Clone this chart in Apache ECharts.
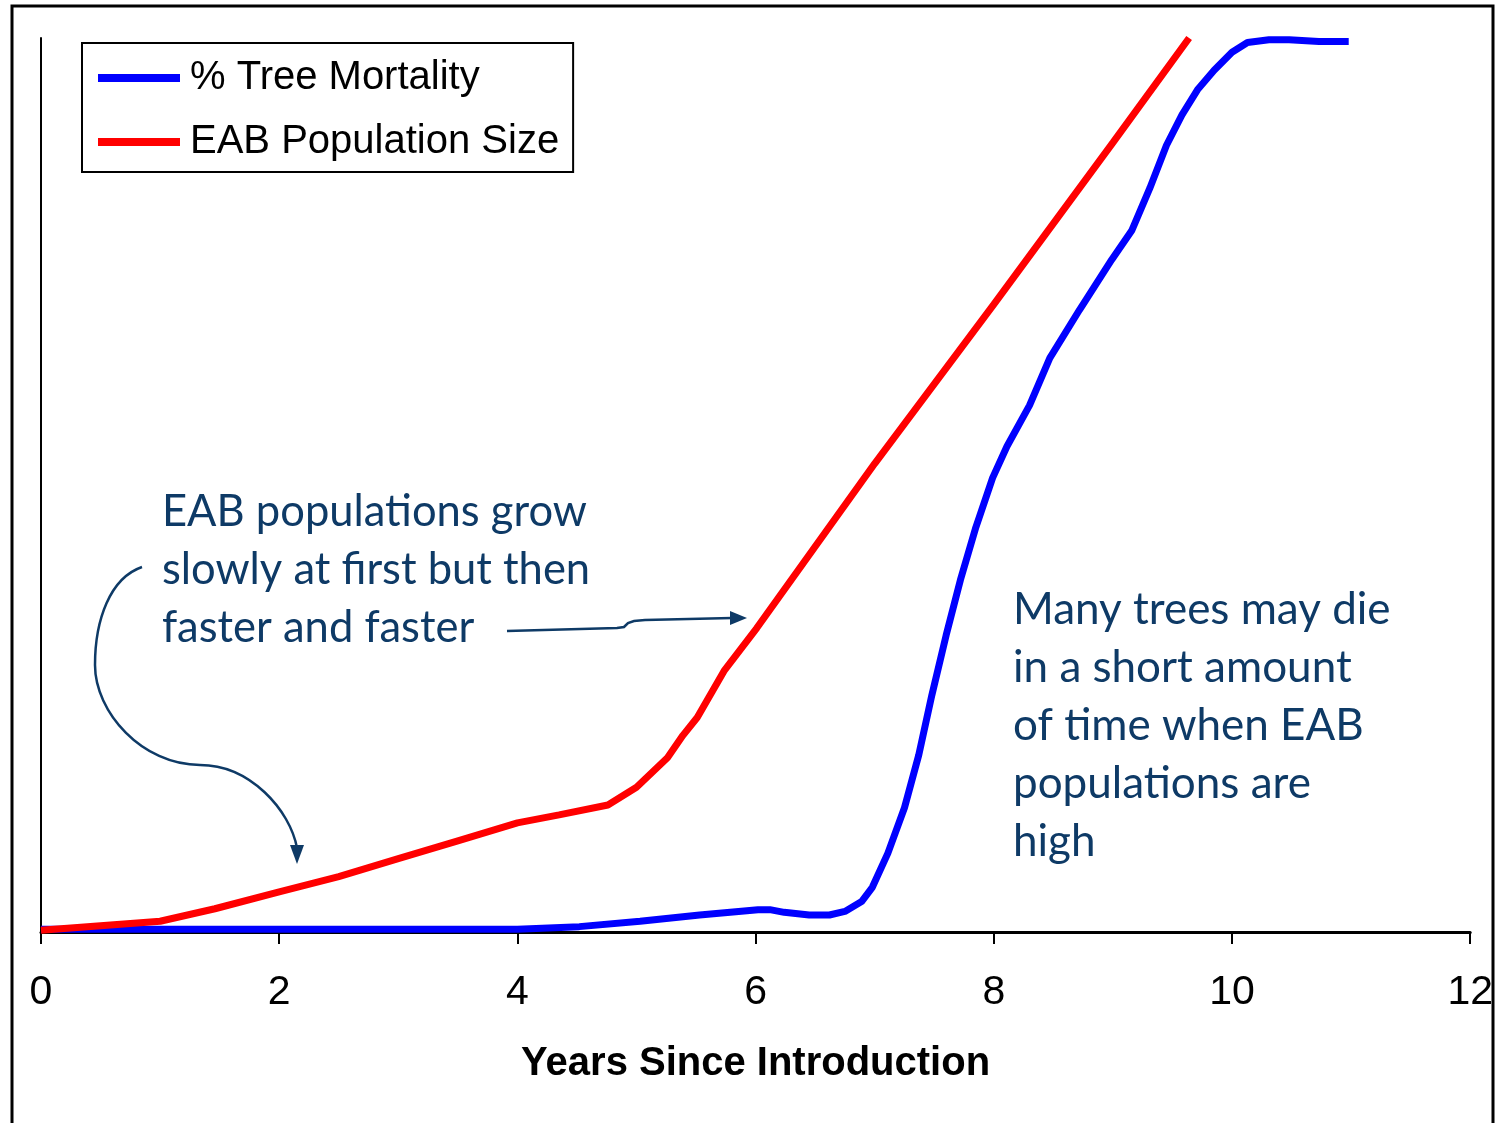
<!DOCTYPE html>
<html>
<head>
<meta charset="utf-8">
<title>EAB population vs tree mortality</title>
<script src="https://cdn.jsdelivr.net/npm/echarts@6/dist/echarts.min.js"></script>
<style>
  html, body { margin: 0; padding: 0; background: #fff; }
  #chart { width: 1496px; height: 1123px; }
</style>
</head>
<body>
<div id="chart"></div>
<script>
// years since introduction -> value (0..100, relative scale)
const mortalityYears = [0, 1, 2, 3, 4, 4.52, 5.03, 5.53, 6.02, 6.12, 6.24, 6.45, 6.62, 6.75, 6.89, 6.98, 7.11, 7.25, 7.37, 7.48, 7.6, 7.72, 7.85, 7.99, 8.11, 8.3, 8.47, 8.72, 8.99, 9.16, 9.31, 9.45, 9.58, 9.71, 9.85, 10, 10.13, 10.31, 10.48, 10.73, 10.98]
const mortalityValues = [0.3, 0.3, 0.3, 0.3, 0.3, 0.6, 1.2, 1.9, 2.5, 2.5, 2.2, 1.9, 1.9, 2.3, 3.4, 5.0, 8.8, 13.9, 19.8, 26.5, 33.2, 39.4, 45.3, 50.8, 54.3, 58.9, 64.2, 69.6, 75.2, 78.5, 83.2, 88.0, 91.4, 94.2, 96.4, 98.4, 99.5, 99.8, 99.8, 99.6, 99.6]

const popYears = [0, 0.5, 1, 1.46, 2, 2.5, 3, 3.5, 4, 4.35, 4.76, 5, 5.26, 5.39, 5.51, 5.74, 6.01, 7, 8, 9, 9.64]
const popValues = [0.2, 0.7, 1.2, 2.6, 4.5, 6.2, 8.2, 10.2, 12.2, 13.1, 14.2, 16.2, 19.5, 22.0, 24.0, 29.3, 34.0, 52.4, 70.2, 88.3, 100]

const seriesNames = ["% Tree Mortality", "EAB Population Size"]
const xTicks = [0, 2, 4, 6, 8, 10, 12]

const noteColor = "#0E3A66"
const noteFont = "Lato, 'Noto Sans', sans-serif"

const chart = echarts.init(document.getElementById("chart"))

const curve = (x1, y1, cx1, cy1, cx2, cy2, x2, y2) => ({
  type: "bezierCurve",
  shape: { x1, y1, cpx1: cx1, cpy1: cy1, cpx2: cx2, cpy2: cy2, x2, y2 },
  style: { fill: null, stroke: noteColor, lineWidth: 2.5 },
  silent: true
})

const option = {
  animation: false,
  backgroundColor: "#fff",
  grid: { left: 41, right: 25, top: 38, bottom: 191 },
  legend: {
    data: seriesNames,
    orient: "vertical",
    left: 82,
    top: 43,
    icon: "rect",
    itemWidth: 82,
    itemHeight: 8,
    itemGap: 20,
    padding: [13, 14, 8, 16],
    borderColor: "#000",
    borderWidth: 2,
    textStyle: {
      fontFamily: "'Liberation Sans', Arial, sans-serif",
      fontSize: 40,
      lineHeight: 40,
      color: "#000",
      padding: [4, 0, 0, 5]
    }
  },
  xAxis: {
    type: "value",
    min: 0,
    max: 12,
    interval: 2,
    name: "Years Since Introduction",
    nameLocation: "middle",
    nameGap: 112,
    nameTextStyle: {
      fontFamily: "'Liberation Sans', Arial, sans-serif",
      fontWeight: "bold",
      fontSize: 40,
      color: "#000"
    },
    axisLine: { lineStyle: { color: "#000", width: 3 } },
    axisTick: { show: true, inside: false, length: 12, lineStyle: { color: "#000", width: 2 } },
    axisLabel: {
      margin: 40,
      fontFamily: "'Liberation Sans Narrow', 'Arial Narrow', 'Liberation Sans', sans-serif",
      fontSize: 41,
      color: "#000",
      formatter: (v) => (xTicks.includes(v) ? String(v) : "")
    },
    splitLine: { show: false }
  },
  yAxis: {
    type: "value",
    min: 0,
    max: 100,
    axisLine: { show: true, lineStyle: { color: "#000", width: 2 } },
    axisTick: { show: false },
    axisLabel: { show: false },
    splitLine: { show: false }
  },
  series: [
    {
      name: seriesNames[0],
      type: "line",
      data: mortalityYears.map((x, i) => [x, mortalityValues[i]]),
      showSymbol: false,
      color: "#0000FF",
      lineStyle: { width: 7, color: "#0000FF" }
    },
    {
      name: seriesNames[1],
      type: "line",
      data: popYears.map((x, i) => [x, popValues[i]]),
      showSymbol: false,
      color: "#FF0000",
      lineStyle: { width: 7, color: "#FF0000" }
    }
  ],
  graphic: [
    // frame round the whole picture
    {
      type: "rect",
      shape: { x: 12, y: 6, width: 1481, height: 1140 },
      style: { fill: null, stroke: "#000", lineWidth: 3 },
      silent: true
    },
    {
      type: "text",
      x: 162,
      y: 483,
      style: {
        text: "EAB populations grow\nslowly at first but then\nfaster and faster",
        font: "43.5px " + noteFont,
        lineHeight: 58,
        fill: noteColor
      }
    },
    {
      type: "text",
      x: 1013,
      y: 581,
      style: {
        text: "Many trees may die\nin a short amount\nof time when EAB\npopulations are\nhigh",
        font: "44px " + noteFont,
        lineHeight: 58,
        fill: noteColor
      }
    },
    // curved arrow down to the slow part
    curve(142, 567, 110, 578, 95, 620, 95, 665),
    curve(95, 665, 95, 712, 142, 765, 200, 765),
    curve(200, 765, 250, 765, 290, 810, 297, 848),
    {
      type: "polygon",
      shape: { points: [[290, 845], [304, 845], [297, 864]] },
      style: { fill: noteColor },
      silent: true
    },
    // straight arrow to the fast part
    {
      type: "polyline",
      shape: { points: [[507, 631], [617, 628], [624, 627], [628, 623], [634, 621], [645, 620], [732, 618]] },
      style: { fill: null, stroke: noteColor, lineWidth: 2.5 },
      silent: true
    },
    {
      type: "polygon",
      shape: { points: [[730, 611], [730, 625], [747, 618]] },
      style: { fill: noteColor },
      silent: true
    }
  ]
}

chart.setOption(option)

window.addEventListener("resize", () => {
  chart.resize()
})
</script>
</body>
</html>
